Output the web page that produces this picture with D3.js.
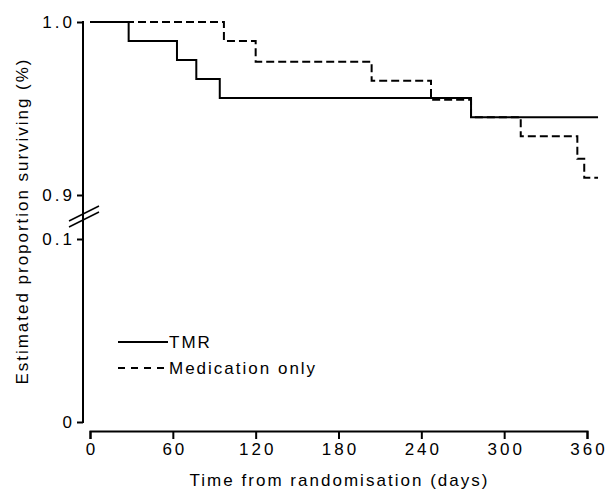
<!DOCTYPE html>
<html>
<head>
<meta charset="utf-8">
<script src="https://cdn.jsdelivr.net/npm/d3@7"></script>
<style>
  body { margin: 0; background: #fff; }
  svg text { font-family: "Liberation Sans", Arial, sans-serif; fill: #000; }
  .axis path, .axis line { stroke: #000; stroke-width: 2px; }
  .line { fill: none; stroke: #000; stroke-width: 2px; }
</style>
</head>
<body>
<div id="chart"></div>
<script>
// Kaplan-Meier style survival curves, TMR vs medication only
var tmrDays = [0, 28, 63, 77, 94, 276, 368],
    tmrSurv = [1.0, 0.989, 0.978, 0.967, 0.956, 0.945, 0.945];

var medDays = [0, 97, 120, 204, 247, 276, 312, 353, 358, 368],
    medSurv = [1.0, 0.989, 0.977, 0.966, 0.955, 0.945, 0.934, 0.921, 0.910, 0.910];

var xTicks = [0, 60, 120, 180, 240, 300, 360],
    yTicksHi = [0.9, 1.0],
    yTicksLo = [0, 0.1];

var legendNames = ["TMR", "Medication only"];

var width = 613,
    height = 493;

var svg = d3.select("#chart").append("svg")
    .attr("width", width)
    .attr("height", height);

var x = d3.scaleLinear().domain([0, 360]).range([90, 587]);
var yHi = d3.scaleLinear().domain([0.9, 1.0]).range([195, 22]);
var yLo = d3.scaleLinear().domain([0, 0.1]).range([422, 239]);

var axisX = 83, axisY = 431;

var fmt = function(d) { return d === 0 ? "0" : d3.format(".1f")(d); };

// y axis: one continuous line with a break between the two segments
svg.append("line")
    .attr("x1", axisX).attr("x2", axisX)
    .attr("y1", yHi(1.0) - 1).attr("y2", yLo(0) + 1)
    .attr("stroke", "#000").attr("stroke-width", 2);

[[yHi, yTicksHi], [yLo, yTicksLo]].forEach(function(p) {
  var g = svg.append("g")
      .attr("class", "axis")
      .attr("transform", "translate(" + axisX + ",0)")
      .call(d3.axisLeft(p[0]).tickValues(p[1]).tickFormat(fmt).tickSize(6).tickPadding(2));
  g.select(".domain").remove();
  g.selectAll("text").style("font-size", "17px").attr("letter-spacing", "3");
});

// break marks
var bk = (yHi(0.9) + yLo(0.1)) / 2;
[-3, 3].forEach(function(o) {
  svg.append("line")
      .attr("x1", axisX - 14).attr("y1", bk + o + 7)
      .attr("x2", axisX + 16).attr("y2", bk + o - 8)
      .attr("stroke", "#000").attr("stroke-width", 1.5);
});

// x axis
var gx = svg.append("g")
    .attr("class", "axis")
    .attr("transform", "translate(0," + axisY + ")")
    .call(d3.axisBottom(x).tickValues(xTicks).tickSizeOuter(0).tickSize(8).tickPadding(4));
gx.selectAll("text").style("font-size", "17px").attr("letter-spacing", "3")
    .attr("dx", "1.5");

svg.append("text")
    .attr("x", (x(0) + x(360)) / 2)
    .attr("y", 486)
    .attr("text-anchor", "middle")
    .style("font-size", "17px")
    .attr("textLength", 298)
    .text("Time from randomisation (days)");

svg.append("text")
    .attr("transform", "translate(28,222) rotate(-90)")
    .attr("text-anchor", "middle")
    .style("font-size", "17px")
    .attr("textLength", 325)
    .text("Estimated proportion surviving (%)");

// curves
var step = d3.line()
    .x(function(d) { return x(d[0]); })
    .y(function(d) { return yHi(d[1]); })
    .curve(d3.curveStepAfter);

svg.append("path")
    .attr("class", "line")
    .attr("d", step(d3.zip(tmrDays, tmrSurv)));

svg.append("path")
    .attr("class", "line")
    .style("stroke-dasharray", "8,4")
    .attr("d", step(d3.zip(medDays, medSurv)));

// legend
var leg = svg.selectAll(".legend")
    .data(legendNames)
    .enter().append("g")
    .attr("class", "legend")
    .attr("transform", function(d, i) { return "translate(118," + (342 + i * 26) + ")"; });

leg.append("line")
    .attr("x1", 0).attr("x2", 50)
    .attr("stroke", "#000").attr("stroke-width", 2)
    .style("stroke-dasharray", function(d, i) { return i ? "7,6" : null; });

leg.append("text")
    .attr("x", 51)
    .attr("dy", "0.36em")
    .style("font-size", "17px")
    .attr("letter-spacing", "2")
    .text(function(d) { return d; });
</script>
</body>
</html>
